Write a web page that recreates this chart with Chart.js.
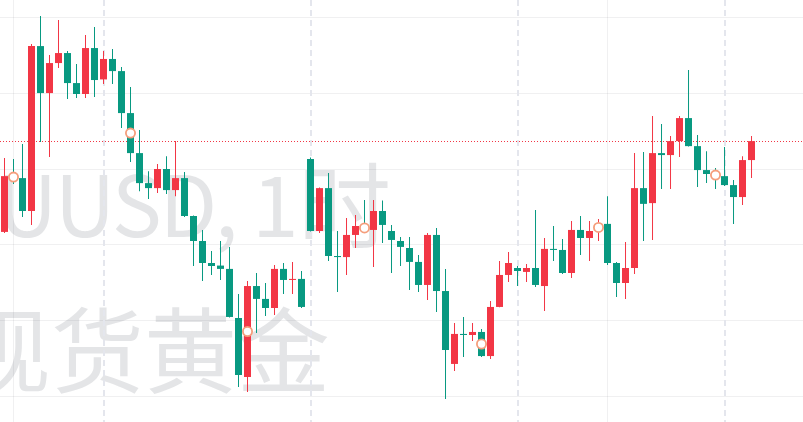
<!DOCTYPE html>
<html>
<head>
<meta charset="utf-8">
<title>现货黄金 XAUUSD 1时</title>
<script src="https://cdn.jsdelivr.net/npm/chart.js@4.4.1/dist/chart.umd.min.js"></script>
<style>
  html, body { margin: 0; padding: 0; background: #ffffff; overflow: hidden; }
  #wrap { width: 803px; height: 422px; position: relative; }
</style>
</head>
<body>
<div id="wrap"><canvas id="chart"></canvas></div>
<script>
// Hourly candles (oldest first)
const opens = [
  2665.82, 2669.50, 2669.37, 2667.20, 2678.08, 2674.98, 2676.96, 2677.62, 2675.64, 2674.92,
  2677.95, 2675.88, 2677.23, 2676.43, 2673.66, 2671.02, 2669.04, 2668.71, 2669.97, 2668.58,
  2669.37, 2666.87, 2665.22, 2663.77, 2663.60, 2663.38, 2660.14, 2656.25, 2662.25, 2661.40,
  2660.80, 2663.38, 2662.65, 2662.72, 2670.63, 2665.88, 2668.71, 2664.23, 2664.16, 2665.62,
  2666.21, 2665.95, 2667.20, 2665.88, 2665.22, 2664.76, 2663.84, 2662.32, 2665.62, 2661.92,
  2657.11, 2659.09, 2659.02, 2659.22, 2657.63, 2660.87, 2662.98, 2663.44, 2663.18, 2663.44,
  2662.25, 2664.70, 2664.63, 2663.11, 2665.95, 2665.42, 2665.88, 2666.35, 2663.77, 2662.45,
  2663.44, 2668.71, 2667.72, 2671.02, 2670.89, 2671.81, 2673.33, 2671.48, 2669.90, 2669.64,
  2669.50, 2668.91, 2668.12, 2670.56
];
const highs = [
  2670.69, 2670.63, 2671.62, 2678.22, 2680.06, 2677.49, 2679.80, 2677.75, 2676.90, 2678.81,
  2679.34, 2677.75, 2677.89, 2676.70, 2675.38, 2672.54, 2669.83, 2670.30, 2670.82, 2671.81,
  2669.77, 2666.90, 2665.95, 2664.56, 2665.22, 2664.83, 2661.73, 2662.58, 2663.11, 2662.45,
  2663.64, 2663.77, 2663.84, 2663.24, 2670.73, 2668.75, 2669.70, 2665.88, 2666.74, 2666.94,
  2667.93, 2667.93, 2667.90, 2666.28, 2665.49, 2665.49, 2664.30, 2665.75, 2666.08, 2663.38,
  2659.81, 2660.21, 2659.81, 2659.42, 2661.26, 2663.90, 2664.50, 2663.57, 2663.70, 2667.27,
  2665.42, 2666.21, 2665.35, 2666.54, 2666.87, 2666.54, 2666.68, 2668.18, 2663.84, 2665.16,
  2671.02, 2671.09, 2673.46, 2672.94, 2672.14, 2673.46, 2676.50, 2672.21, 2671.15, 2670.03,
  2671.42, 2669.24, 2670.82, 2672.14
];
const lows = [
  2665.75, 2668.98, 2666.81, 2666.28, 2671.75, 2670.76, 2676.63, 2674.59, 2674.65, 2674.65,
  2674.72, 2675.58, 2675.58, 2672.67, 2670.43, 2668.51, 2667.99, 2668.38, 2668.32, 2668.18,
  2666.80, 2663.57, 2662.58, 2662.98, 2662.65, 2660.17, 2655.59, 2655.26, 2659.15, 2660.27,
  2660.34, 2661.73, 2661.73, 2660.80, 2665.85, 2665.75, 2663.90, 2661.86, 2662.98, 2664.76,
  2665.75, 2663.51, 2665.09, 2663.11, 2663.57, 2661.99, 2661.86, 2661.33, 2660.54, 2654.80,
  2656.64, 2657.57, 2658.62, 2657.57, 2657.44, 2660.85, 2662.52, 2662.25, 2662.52, 2662.19,
  2660.60, 2663.90, 2663.04, 2662.78, 2664.30, 2663.90, 2665.22, 2663.64, 2661.53, 2661.40,
  2663.04, 2665.22, 2665.29, 2668.65, 2668.65, 2670.76, 2671.45, 2668.78, 2669.04, 2668.65,
  2668.85, 2666.35, 2667.60, 2669.37
];
const closes = [
  2669.50, 2669.37, 2667.20, 2678.08, 2674.98, 2676.96, 2677.62, 2675.64, 2674.92, 2677.95,
  2675.84, 2677.23, 2676.43, 2673.66, 2671.02, 2669.04, 2668.71, 2669.97, 2668.58, 2669.37,
  2666.87, 2665.22, 2663.77, 2663.57, 2663.38, 2660.21, 2656.38, 2662.25, 2661.40, 2660.80,
  2663.38, 2662.65, 2662.72, 2660.87, 2665.88, 2668.71, 2664.23, 2664.16, 2665.62, 2666.21,
  2665.95, 2667.20, 2666.28, 2665.29, 2664.83, 2663.84, 2662.32, 2665.62, 2661.92, 2658.03,
  2659.09, 2659.02, 2659.22, 2657.63, 2660.87, 2662.98, 2663.77, 2663.24, 2663.44, 2662.32,
  2664.70, 2664.63, 2663.11, 2665.95, 2665.42, 2665.88, 2666.35, 2663.77, 2662.45, 2663.44,
  2668.71, 2667.67, 2671.02, 2670.89, 2671.81, 2673.33, 2671.48, 2669.90, 2669.64, 2669.50,
  2668.91, 2668.12, 2670.56, 2671.81
];

// Horizontal grid levels, day separators, other vertical grid lines, event markers
const priceTicks = [2655, 2660, 2665, 2670, 2675, 2680];
const sessionStarts = [11, 34, 57, 80];
const timeGridIdx = [1, 67];
const markerIdx = [1, 14, 27, 40, 53, 66, 79];

const symbolText = 'XAUUSD, 1';
const intervalText = '时';
const descText = '现货黄金';

const UP = '#f23645';
const DOWN = '#089981';

function candleColor(i) {
    return closes[i] >= opens[i] ? UP : DOWN;
}

// Watermark, grid and last price line drawn under the candles
const backdrop = {
    id: 'backdrop',
    beforeDatasetsDraw(chart) {
        const ctx = chart.ctx;
        const x = chart.scales.x;
        const y = chart.scales.y;
        const area = chart.chartArea;
        ctx.save();

        // symbol watermark
        ctx.fillStyle = 'rgba(120, 123, 134, 0.2)';
        ctx.textBaseline = 'alphabetic';
        ctx.font = '84px "Noto Sans CJK SC"';
        ctx.textAlign = 'right';
        ctx.letterSpacing = '-2.5px';
        ctx.fillText(symbolText, 296, 237);
        ctx.letterSpacing = '0px';
        ctx.font = '93px "Noto Sans CJK SC"';
        ctx.textAlign = 'left';
        ctx.fillText(intervalText, 298, 241);
        ctx.textAlign = 'center';
        ctx.fillText(descText, 144, 386);

        // horizontal grid
        ctx.strokeStyle = 'rgba(42, 46, 57, 0.07)';
        ctx.lineWidth = 1;
        priceTicks.forEach(function(v) {
            const py = Math.round(y.getPixelForValue(v)) + 0.5;
            ctx.beginPath();
            ctx.moveTo(area.left, py);
            ctx.lineTo(area.right, py);
            ctx.stroke();
        });
        timeGridIdx.forEach(function(i) {
            const px = Math.floor(x.getPixelForValue(i)) + 0.5;
            ctx.beginPath();
            ctx.moveTo(px, area.top);
            ctx.lineTo(px, area.bottom);
            ctx.stroke();
        });

        // day separators
        ctx.strokeStyle = '#e4e6ed';
        ctx.lineWidth = 2;
        ctx.setLineDash([6, 4]);
        sessionStarts.forEach(function(i) {
            const px = Math.round(x.getPixelForValue(i));
            ctx.beginPath();
            ctx.moveTo(px, area.top);
            ctx.lineTo(px, area.bottom);
            ctx.stroke();
        });

        // last price
        const last = closes[closes.length - 1];
        const ly = Math.round(y.getPixelForValue(last)) + 0.5;
        ctx.strokeStyle = UP;
        ctx.lineWidth = 1;
        ctx.setLineDash([1, 2]);
        ctx.beginPath();
        ctx.moveTo(area.left, ly);
        ctx.lineTo(area.right, ly);
        ctx.stroke();

        ctx.restore();
    }
};

const wickData = opens.map((o, i) => ({ x: i, y: [lows[i], highs[i]] }));
const bodyData = opens.map((o, i) => ({ x: i, y: [o, closes[i]] }));
const markerData = markerIdx.map(i => ({ x: i, y: (opens[i] + closes[i]) / 2 }));

document.addEventListener('DOMContentLoaded', function() {
    const ctx = document.getElementById('chart').getContext('2d');
    new Chart(ctx, {
        type: 'bar',
        data: {
            datasets: [
                {
                    label: 'wick',
                    data: wickData,
                    barThickness: 1,
                    grouped: false,
                    inflateAmount: 0,
                    borderWidth: 0,
                    backgroundColor: c => candleColor(c.dataIndex),
                    order: 3
                },
                {
                    label: 'body',
                    data: bodyData,
                    barThickness: 7,
                    minBarLength: 1,
                    grouped: false,
                    inflateAmount: 0,
                    borderWidth: 0,
                    backgroundColor: c => candleColor(c.dataIndex),
                    order: 2
                },
                {
                    type: 'scatter',
                    label: 'events',
                    data: markerData,
                    pointRadius: 4.6,
                    pointBorderWidth: 1.8,
                    pointBorderColor: '#f59e7c',
                    pointBackgroundColor: '#ffffff',
                    order: 1
                }
            ]
        },
        options: {
            responsive: true,
            maintainAspectRatio: false,
            animation: false,
            layout: { padding: 0, autoPadding: false },
            plugins: {
                legend: { display: false },
                tooltip: { enabled: false }
            },
            scales: {
                x: {
                    type: 'linear',
                    display: false,
                    offset: false,
                    min: -0.5,
                    max: 88.72
                },
                y: {
                    display: false,
                    min: 2653.28,
                    max: 2681.12
                }
            }
        },
        plugins: [backdrop]
    });
});
</script>
</body>
</html>
